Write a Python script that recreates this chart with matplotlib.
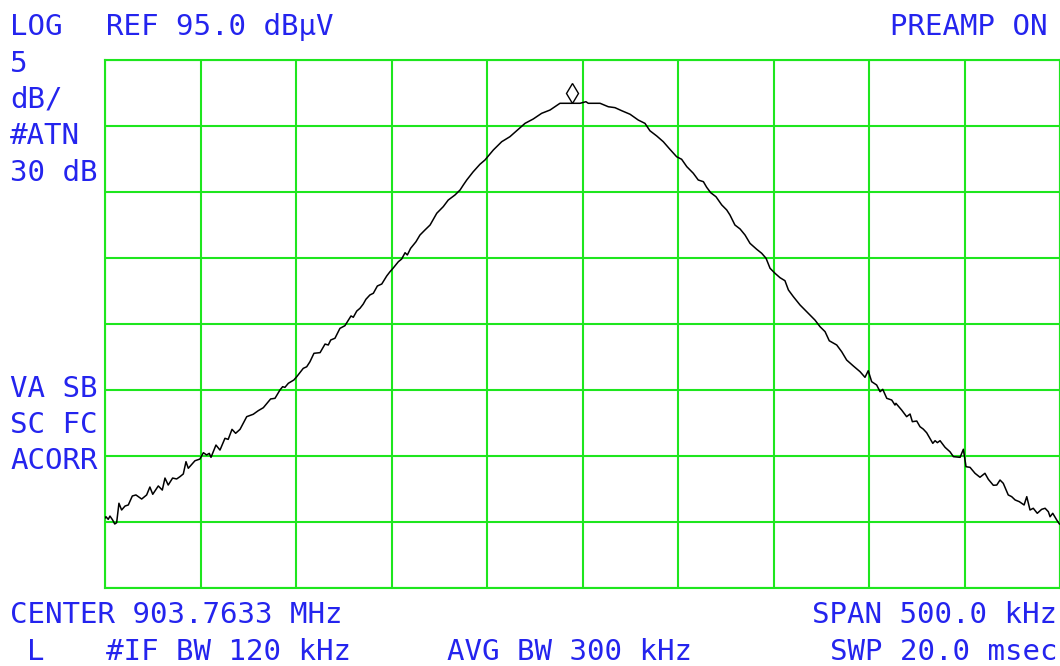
import matplotlib
matplotlib.use("Agg")
import matplotlib.pyplot as plt
import matplotlib.transforms as mtransforms

# spectrum analyzer trace: offset from center (kHz) and level (dBuV)
freq_khz = [-250.0, -249.5, -248.3, -247.4, -246.0, -244.9, -243.9, -242.7, -241.3, -239.5,
            -237.8, -235.7, -233.8, -230.8, -228.2, -226.5, -225.0, -222.1, -220.0, -218.6,
            -216.9, -214.6, -212.5, -210.8, -209.0, -207.6, -206.4, -202.9, -200.3, -198.5,
            -196.8, -195.4, -194.5, -191.9, -189.8, -187.2, -185.5, -183.5, -181.6, -179.3,
            -175.8, -172.4, -169.8, -167.1, -163.3, -161.0, -158.4, -157.0, -155.8, -154.0,
            -151.1, -149.6, -146.2, -144.4, -142.7, -140.6, -137.4, -134.8, -133.1, -131.8,
            -129.6, -127.0, -124.4, -121.2, -120.0, -118.2, -116.5, -114.8, -113.4, -111.3,
            -109.5, -107.4, -105.1, -102.5, -100.8, -99.1, -96.4, -94.7, -92.9, -91.7,
            -90.0, -87.2, -85.1, -82.5, -79.8, -76.3, -72.9, -70.3, -66.8, -64.1,
            -62.4, -60.6, -57.3, -53.7, -51.1, -46.7, -42.3, -38.0, -33.6, -30.1,
            -25.8, -21.4, -17.0, -11.8, -5.7, -1.3, 1.8, 3.0, 9.2, 13.5,
            17.0, 20.5, 24.9, 29.2, 32.7, 35.3, 38.9, 42.3, 45.8, 49.3,
            51.9, 54.6, 58.0, 60.6, 63.3, 65.0, 67.1, 69.9, 72.9, 75.5,
            77.2, 79.8, 82.5, 85.1, 87.7, 91.2, 93.8, 96.1, 98.2, 100.8,
            103.4, 106.0, 107.8, 110.4, 113.9, 117.4, 121.7, 124.4, 127.0, 129.2,
            133.1, 135.7, 138.3, 141.8, 145.3, 147.9, 149.6, 151.4, 154.0, 155.8,
            157.2, 159.3, 161.9, 163.6, 164.1, 167.1, 169.7, 171.5, 172.7, 175.0,
            176.7, 178.4, 180.2, 183.4, 184.6, 185.8, 187.2, 189.8, 192.4, 194.2,
            197.7, 199.4, 200.8, 202.9, 205.5, 208.1, 210.7, 212.5, 215.1, 216.9,
            218.6, 220.3, 222.9, 224.7, 226.5, 228.7, 231.2, 232.6, 234.3, 236.0,
            238.1, 240.4, 242.2, 243.9, 244.8, 246.2, 248.3, 249.7]
level_dbuv = [60.30, 60.40, 60.20, 60.45, 60.15, 59.85, 59.95, 61.42, 60.91, 61.21,
              61.29, 61.97, 62.05, 61.74, 62.05, 62.65, 62.10, 62.73, 62.42, 63.33,
              62.80, 63.33, 63.26, 63.43, 63.64, 64.57, 64.07, 64.64, 64.77, 65.25,
              65.08, 65.20, 64.90, 65.83, 65.45, 66.34, 66.26, 67.02, 66.72, 67.02,
              67.98, 68.16, 68.43, 68.66, 69.32, 69.37, 70.00, 70.25, 70.20, 70.51,
              70.76, 71.01, 71.64, 71.76, 72.14, 72.78, 72.83, 73.48, 73.41, 73.79,
              73.92, 74.67, 74.87, 75.61, 75.51, 75.98, 76.19, 76.51, 76.87, 77.20,
              77.33, 77.88, 78.03, 78.64, 78.96, 79.24, 79.72, 79.92, 80.40, 80.23,
              80.73, 81.23, 81.74, 82.12, 82.50, 83.39, 83.89, 84.39, 84.77, 85.15,
              85.53, 85.91, 86.52, 87.10, 87.42, 88.18, 88.81, 89.19, 89.75, 90.20,
              90.53, 90.96, 91.21, 91.72, 91.72, 91.72, 91.84, 91.72, 91.72, 91.46,
              91.39, 91.16, 90.89, 90.45, 90.20, 89.64, 89.24, 88.81, 88.23, 87.67,
              87.48, 86.92, 86.42, 85.91, 85.78, 85.36, 84.95, 84.64, 84.02, 83.64,
              83.26, 82.50, 82.20, 81.74, 81.11, 80.66, 80.36, 79.98, 79.22, 78.84,
              78.51, 78.28, 77.58, 77.07, 76.44, 75.93, 75.30, 74.79, 74.42, 73.73,
              73.41, 72.90, 72.27, 71.82, 71.39, 70.96, 71.46, 70.63, 70.38, 69.87,
              70.05, 69.37, 69.24, 68.86, 68.99, 68.48, 67.98, 68.18, 67.60, 67.65,
              67.22, 67.04, 66.76, 65.96, 66.16, 66.01, 66.16, 65.66, 65.32, 64.95,
              64.90, 65.51, 64.19, 64.14, 63.69, 63.39, 63.69, 63.23, 62.78, 62.80,
              63.18, 62.93, 62.05, 61.92, 61.67, 61.54, 61.29, 61.92, 60.91, 61.04,
              60.66, 60.96, 61.04, 60.78, 60.40, 60.66, 60.15, 59.85]

marker_khz = -5.7
marker_dbuv = 91.72

ref_level = 95.0
db_per_div = 5
span_khz = 500.0

blue = '#2424ee'
green = '#1ee61e'

fig = plt.figure(figsize=(10.6, 6.66), dpi=100)
ax = fig.add_axes([105 / 1060, 78 / 666, 955 / 1060, 528 / 666])

ax.set_xlim(-span_khz / 2, span_khz / 2)
ax.set_ylim(ref_level - 8 * db_per_div, ref_level)
ax.set_xticks([-span_khz / 2 + i * span_khz / 10 for i in range(11)])
ax.set_yticks([ref_level - i * db_per_div for i in range(9)])
ax.tick_params(length=0, labelbottom=False, labelleft=False)
ax.grid(True, color=green, linewidth=1.5)
for s in ax.spines.values():
    s.set_color(green)
    s.set_linewidth(1.5)

ax.plot(freq_khz, level_dbuv, color='black', linewidth=1.1, zorder=3)

# marker diamond sits just above the trace
up = mtransforms.ScaledTranslation(0, 10 / 100, fig.dpi_scale_trans)
ax.plot(marker_khz, marker_dbuv, marker='d', markersize=10.5, markerfacecolor='white',
        markeredgecolor='black', markeredgewidth=1.0, transform=ax.transData + up,
        clip_on=False, zorder=4)

font = dict(family='DejaVu Sans Mono', fontsize=21, color=blue)


def label(x, y, s, ha='left'):
    fig.text(x / 1060, 1 - y / 666, s, ha=ha, va='baseline', **font)


label(10, 35, 'LOG')
label(106, 35, 'REF 95.0 dBµV')
label(1047, 35, 'PREAMP ON', ha='right')
label(10, 72, '5')
label(10, 108, 'dB/')
label(10, 144, '#ATN')
label(10, 181, '30 dB')
label(10, 397, 'VA SB')
label(10, 433, 'SC FC')
label(10, 469, 'ACORR')
label(10, 623, 'CENTER 903.7633 MHz')
label(27, 660, 'L')
label(106, 660, '#IF BW 120 kHz')
label(447, 660, 'AVG BW 300 kHz')
label(1057, 623, 'SPAN 500.0 kHz', ha='right')
label(1057, 660, 'SWP 20.0 msec', ha='right')

fig.savefig('out.png', dpi=100, facecolor='white')
